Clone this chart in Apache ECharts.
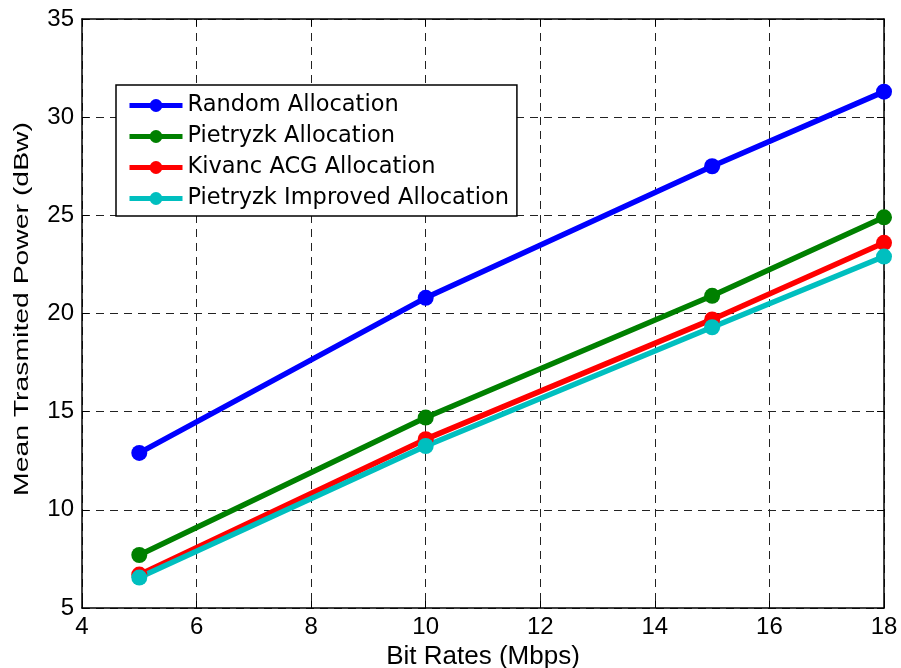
<!DOCTYPE html>
<html><head><meta charset="utf-8">
<script src="https://cdn.jsdelivr.net/npm/echarts@6/dist/echarts.min.js"></script>
<style>html,body{margin:0;padding:0;background:#fff}#c{width:901px;height:668px}</style>
</head><body><div id="c"></div>
<script>
const bitRates = [5, 10, 15, 18];
const randomAlloc = [12.9, 20.8, 27.5, 31.3];
const pietryzkAlloc = [7.7, 14.7, 20.9, 24.9];
const kivancAlloc = [6.7, 13.6, 19.7, 23.6];
const improvedAlloc = [6.55, 13.25, 19.3, 22.9];
const seriesNames = ['Random Allocation', 'Pietryzk Allocation', 'Kivanc ACG Allocation', 'Pietryzk Improved Allocation'];
const seriesColors = ['#0000ff', '#008000', '#ff0000', '#00bfbf'];
const seriesData = [randomAlloc, pietryzkAlloc, kivancAlloc, improvedAlloc];
const xAxisTitle = 'Bit Rates (Mbps)';
const yAxisTitle = 'Mean Trasmited Power (dBw)';

const font = 'Liberation Sans, Arial, sans-serif';
const chart = echarts.init(document.getElementById('c'), null, {renderer: 'canvas'});
const lineAx = {show: true, onZero: false, lineStyle: {color: '#000', width: 1.5}};
const tickAx = {show: true, inside: true, length: 7, lineStyle: {color: '#000', width: 1}};
const gridLine = {show: true, lineStyle: {color: '#222', type: [8, 6], width: 1}};
chart.setOption({
  animation: false,
  backgroundColor: '#fff',
  grid: {left: 82, right: 17, top: 19, bottom: 60, show: false, containLabel: false, outerBoundsMode: 'none'},
  xAxis: [{
    type: 'value', min: 4, max: 18, interval: 2, position: 'bottom',
    axisLine: lineAx, axisTick: tickAx, splitLine: gridLine,
    axisLabel: {color: '#000', fontSize: 24, fontFamily: font, margin: 7},
    name: xAxisTitle, nameLocation: 'middle', nameGap: 32,
    nameTextStyle: {color: '#000', fontSize: 26, fontFamily: font}
  }, {
    type: 'value', min: 4, max: 18, interval: 2, position: 'top',
    axisLine: lineAx, axisTick: tickAx, splitLine: {show: false},
    axisLabel: {show: false}
  }],
  yAxis: [{
    type: 'value', min: 5, max: 35, interval: 5, position: 'left',
    axisLine: lineAx, axisTick: tickAx, splitLine: gridLine,
    axisLabel: {color: '#000', fontSize: 24, fontFamily: font, margin: 8}
  }, {
    type: 'value', min: 5, max: 35, interval: 5, position: 'right',
    axisLine: lineAx, axisTick: tickAx, splitLine: {show: false},
    axisLabel: {show: false}
  }],
  graphic: [{
    type: 'text', x: 22, y: 309, rotation: Math.PI / 2, scaleX: 1.35,
    style: {text: yAxisTitle, fill: '#000', fontSize: 21, fontFamily: font,
            align: 'center', verticalAlign: 'middle'}
  }],
  legend: {
    left: 116, top: 85, orient: 'vertical',
    padding: [9, 8, 6, 11],
    itemGap: 8, itemWidth: 53, itemHeight: 16,
    backgroundColor: '#fff', borderColor: '#000', borderWidth: 1.5, borderRadius: 0,
    lineStyle: {width: 5},
    textStyle: {color: '#000', fontSize: 22.5, lineHeight: 22, fontFamily: 'DejaVu Sans, sans-serif'},
    data: seriesNames
  },
  series: seriesNames.map((n, i) => ({
    name: n, type: 'line',
    data: bitRates.map((x, j) => [x, seriesData[i][j]]),
    color: seriesColors[i],
    lineStyle: {width: 5.5, color: seriesColors[i]},
    symbol: 'circle', symbolSize: 16,
    itemStyle: {color: seriesColors[i]}
  }))
});
</script></body></html>
